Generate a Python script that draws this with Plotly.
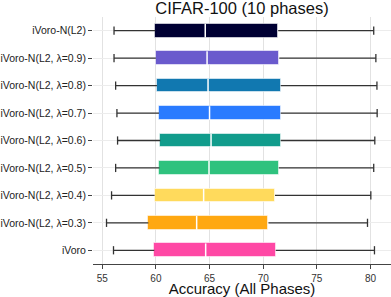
import plotly.graph_objects as go

categories = ["iVoro", "iVoro-N(L2, λ=0.3)", "iVoro-N(L2, λ=0.4)", "iVoro-N(L2, λ=0.5)",
              "iVoro-N(L2, λ=0.6)", "iVoro-N(L2, λ=0.7)", "iVoro-N(L2, λ=0.8)",
              "iVoro-N(L2, λ=0.9)", "iVoro-N(L2)"]
lower = [56.05, 55.40, 55.87, 56.25, 56.43, 56.37, 56.25, 56.10, 56.10]
q1 = [59.85, 59.30, 59.88, 60.32, 60.41, 60.29, 60.10, 60.00, 59.94]
median = [64.64, 63.80, 64.45, 64.95, 65.14, 65.00, 64.86, 64.77, 64.60]
q3 = [71.17, 70.49, 71.10, 71.45, 71.63, 71.63, 71.63, 71.50, 71.40]
upper = [80.37, 79.72, 80.03, 80.30, 80.40, 80.62, 80.60, 80.50, 80.30]
colors = ["#FF48A5", "#FFA811", "#FFDA5C", "#2FC27E", "#119C8C",
          "#2A7BFF", "#1178B0", "#6A5ACD", "#000033"]
x_ticks = [55, 60, 65, 70, 75, 80]

ypos = list(range(len(categories)))
cap = 0.15
box_w = 0.5

fig = go.Figure()

# boxes (Q1..Q3)
fig.add_trace(go.Bar(
    y=ypos, x=[b - a for a, b in zip(q1, q3)], base=q1, orientation="h",
    width=box_w, marker=dict(color=colors, line=dict(color="rgba(255,255,255,0.55)", width=1)),
    showlegend=False, hoverinfo="skip"))

# whiskers with caps
wx, wy = [], []
for i, y in enumerate(ypos):
    wx += [lower[i], q1[i], None, q3[i], upper[i], None,
           lower[i], lower[i], None, upper[i], upper[i], None]
    wy += [y, y, None, y, y, None,
           y - cap, y + cap, None, y - cap, y + cap, None]
fig.add_trace(go.Scatter(x=wx, y=wy, mode="lines", line=dict(color="#333333", width=1.3),
                         showlegend=False, hoverinfo="skip"))

# medians
mx, my = [], []
for i, y in enumerate(ypos):
    mx += [median[i], median[i], None]
    my += [y - box_w / 2, y + box_w / 2, None]
fig.add_trace(go.Scatter(x=mx, y=my, mode="lines", line=dict(color="white", width=1.5),
                         showlegend=False, hoverinfo="skip"))

fig.update_layout(
    width=391, height=297,
    margin=dict(l=93, r=0, t=17, b=33, autoexpand=False),
    paper_bgcolor="white", plot_bgcolor="white",
    font=dict(family="Liberation Sans, Arial, sans-serif", color="#222"),
    title=dict(text="CIFAR-100 (10 phases)", x=0.5, xref="paper", xanchor="center",
               y=0.993, yref="container", yanchor="top", pad=dict(t=0),
               font=dict(size=16.5, color="#111")),
    bargap=0,
)
fig.update_xaxes(
    range=[54.14, 81.91], tickvals=x_ticks, automargin=False,
    showgrid=True, gridcolor="#e2e2e2", gridwidth=1.2,
    showline=True, linecolor="#444", linewidth=1,
    ticks="outside", ticklen=4, tickcolor="#444", ticklabelstandoff=1,
    tickfont=dict(size=10, color="#333"),
    title=dict(text="Accuracy (All Phases)", font=dict(size=15, color="#111"), standoff=0),
    zeroline=False,
)
fig.update_yaxes(
    range=[-0.5, 8.5], tickvals=ypos, ticktext=categories, automargin=False,
    showgrid=True, gridcolor="#ececec", gridwidth=1,
    showline=False, ticks="outside", ticklen=4, tickcolor="#444",
    tickfont=dict(size=10.5, color="#222"), zeroline=False,
)

fig.write_html("out.html", config={"displayModeBar": False},
               post_script="document.body.style.margin='0';")
